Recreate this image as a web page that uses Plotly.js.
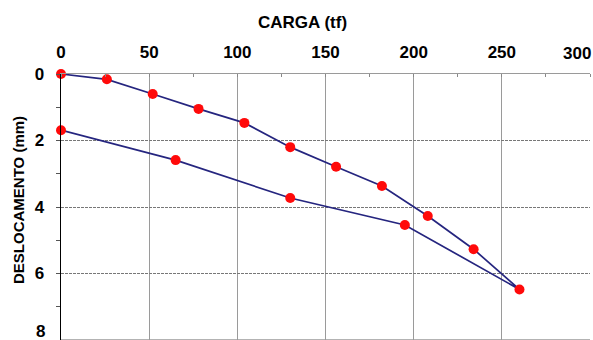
<!DOCTYPE html>
<html>
<head>
<meta charset="utf-8">
<script src="https://cdn.plot.ly/plotly-3.0.1.min.js"></script>
<style>
html,body{margin:0;padding:0;background:#fff;}
#chart{width:593px;height:340px;}
</style>
</head>
<body>
<div id="chart"></div>
<script>
// Loading branch
var loadX = [0, 26, 52, 78, 104, 130, 156, 182, 208, 234, 260];
var loadY = [0, 0.16, 0.6, 1.05, 1.47, 2.2, 2.79, 3.37, 4.27, 5.27, 6.48];
// Unloading branch
var unloadX = [195, 130, 65, 0];
var unloadY = [4.54, 3.73, 2.59, 1.69];
var xTicks = [0, 50, 100, 150, 200, 250, 300];
var xTickText = ['0', '50', '100', '150', '200', '250', ''];
var yTicks = [0, 2, 4, 6, 8];
var yTickText = ['0', '2', '4', '6', ''];
var xTitle = 'CARGA (tf)';
var yTitle = 'DESLOCAMENTO (mm)';

var font = 'Liberation Sans, Arial, sans-serif';
var bold = function (s) { return {family: font, size: s, weight: 'bold', color: '#000'}; };

var trace = {
  x: loadX.concat(unloadX),
  y: loadY.concat(unloadY),
  mode: 'lines+markers',
  type: 'scatter',
  line: {color: '#25257f', width: 1.7},
  marker: {color: '#ff0a0a', size: 10},
  cliponaxis: false,
  hoverinfo: 'x+y'
};

var layout = {
  width: 593, height: 340,
  margin: {l: 61, r: 3, t: 74, b: 0, pad: 0},
  paper_bgcolor: '#fff', plot_bgcolor: '#fff',
  showlegend: false,
  font: {family: font, color: '#000'},
  xaxis: {
    side: 'top',
    range: [0, 300],
    tickvals: xTicks,
    ticktext: xTickText,
    ticks: '',
    tickfont: bold(17),
    ticklabelstandoff: 8,
    showgrid: true, gridcolor: '#9a9a9a', gridwidth: 1,
    showline: true, linecolor: '#9a9a9a', linewidth: 1,
    zeroline: false,
    minor: {dtick: 25, ticks: 'inside', ticklen: 3, tickcolor: '#888', showgrid: false}
  },
  yaxis: {
    range: [8, 0],
    tickvals: yTicks,
    ticktext: yTickText,
    ticks: '',
    tickfont: bold(17),
    ticklabelstandoff: 12,
    showgrid: true, gridcolor: '#777', gridwidth: 1, griddash: '3px,1px',
    showline: true, linecolor: '#000', linewidth: 1.5,
    zeroline: false,
    minor: {dtick: 1, ticks: 'outside', ticklen: 4, tickcolor: '#555', showgrid: false}
  },
  shapes: [{
    type: 'line', xref: 'paper', yref: 'paper', x0: 0, x1: 1, y0: 0, y1: 0,
    line: {color: '#9a9a9a', width: 1.5}
  }],
  annotations: [
    {
      xref: 'paper', yref: 'paper', x: 1, y: 1,
      xanchor: 'right', yanchor: 'middle', xshift: 3, yshift: 21,
      text: '300', showarrow: false, font: bold(17)
    },
    {
      xref: 'paper', yref: 'paper', x: 0, y: 0,
      xanchor: 'right', yanchor: 'middle', xshift: -14, yshift: 9,
      text: '8', showarrow: false, font: bold(17)
    },
    {
      xref: 'paper', yref: 'paper', x: 0.457, y: 1,
      xanchor: 'center', yanchor: 'middle', yshift: 52,
      text: xTitle, showarrow: false, font: bold(17)
    },
    {
      xref: 'paper', yref: 'paper', x: 0, y: 0.5,
      xanchor: 'center', yanchor: 'middle', xshift: -43, yshift: 7,
      textangle: -90,
      text: yTitle, showarrow: false, font: bold(15)
    }
  ]
};

Plotly.newPlot('chart', [trace], layout, {displayModeBar: false, staticPlot: true});
</script>
</body>
</html>
